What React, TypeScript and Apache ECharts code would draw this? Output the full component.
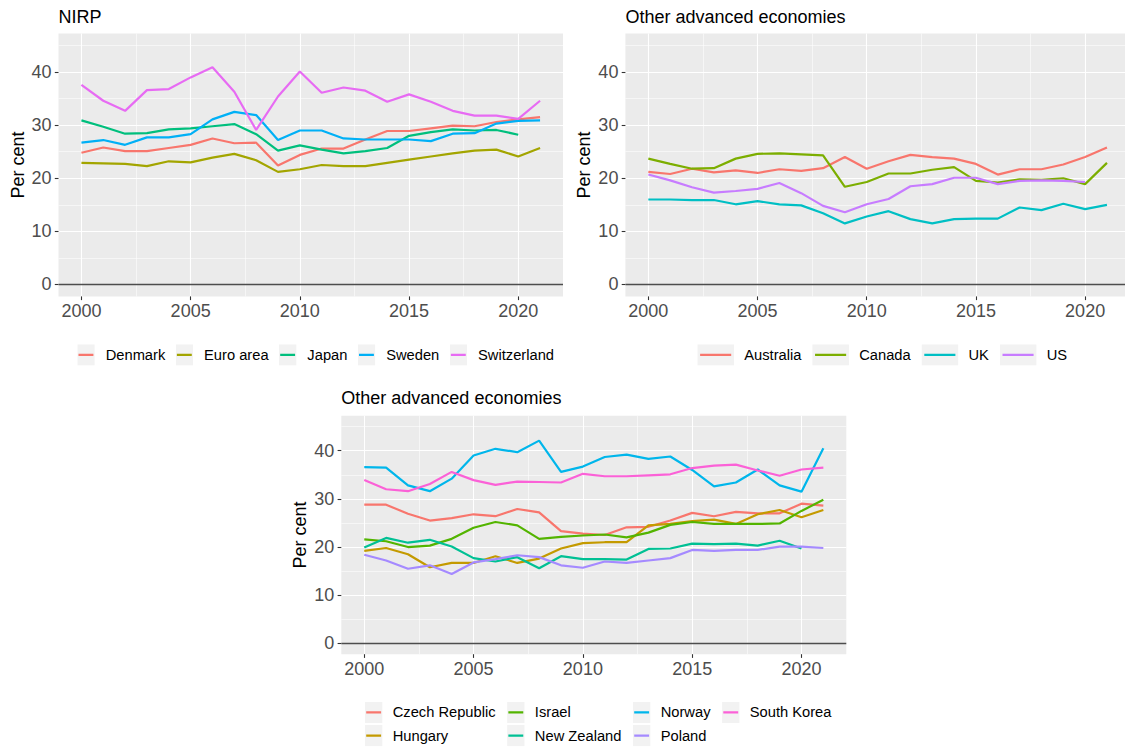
import React, { useEffect, useRef } from "react";
import * as echarts from "echarts";

// ---------------- data ----------------
const years = [2000, 2001, 2002, 2003, 2004, 2005, 2006, 2007, 2008, 2009, 2010, 2011, 2012, 2013, 2014, 2015, 2016, 2017, 2018, 2019, 2020, 2021];

const xMajorTicks = [2000, 2005, 2010, 2015, 2020];
const xMinorTicks = [2002.5, 2007.5, 2012.5, 2017.5];
const yMajorTicks = [0, 10, 20, 30, 40];
const yMinorTicks = [5, 15, 25, 35, 45];

// Panel 1: NIRP
const nirpNames = ["Denmark", "Euro area", "Japan", "Sweden", "Switzerland"];
const denmark = [24.8, 25.8, 25.1, 25.1, 25.7, 26.3, 27.5, 26.6, 26.7, 22.4, 24.4, 25.6, 25.6, 27.3, 28.9, 28.9, 29.4, 29.9, 29.8, 30.6, 31.1, 31.5];
const euroArea = [22.9, 22.8, 22.7, 22.3, 23.2, 23.0, 23.9, 24.6, 23.4, 21.2, 21.7, 22.5, 22.3, 22.3, 22.9, 23.5, 24.1, 24.7, 25.2, 25.4, 24.1, 25.7];
const japan = [30.9, 29.7, 28.4, 28.5, 29.2, 29.4, 29.8, 30.2, 28.3, 25.2, 26.2, 25.4, 24.7, 25.1, 25.7, 28.0, 28.7, 29.2, 29.0, 29.1, 28.2];
const sweden = [26.7, 27.2, 26.3, 27.7, 27.7, 28.3, 31.1, 32.5, 31.9, 27.2, 29.0, 29.0, 27.5, 27.3, 27.3, 27.3, 27.0, 28.4, 28.5, 30.3, 30.8, 30.9];
const switzerland = [37.6, 34.6, 32.7, 36.6, 36.8, 39.0, 40.9, 36.3, 29.1, 35.4, 40.1, 36.1, 37.1, 36.5, 34.4, 35.8, 34.4, 32.7, 31.8, 31.8, 31.2, 34.6];
const nirpColors = ["#F8766D", "#A3A500", "#00BF7D", "#00B0F6", "#E76BF3"];

// Panel 2: Other advanced economies (large)
const oaeNames = ["Australia", "Canada", "UK", "US"];
const australia = [21.2, 20.8, 21.8, 21.1, 21.5, 21.0, 21.7, 21.4, 21.9, 24.0, 21.8, 23.2, 24.4, 24.0, 23.7, 22.7, 20.7, 21.7, 21.7, 22.6, 24.0, 25.8];
const canada = [23.7, 22.7, 21.8, 21.9, 23.7, 24.6, 24.7, 24.5, 24.3, 18.4, 19.3, 20.9, 20.9, 21.6, 22.1, 19.5, 19.2, 19.8, 19.7, 20.0, 18.9, 22.9];
const uk = [16.0, 16.0, 15.9, 15.9, 15.1, 15.7, 15.1, 14.9, 13.4, 11.5, 12.8, 13.8, 12.3, 11.5, 12.3, 12.4, 12.4, 14.5, 14.0, 15.2, 14.2, 15.0];
const us = [20.7, 19.6, 18.3, 17.3, 17.6, 18.0, 19.1, 17.2, 14.8, 13.6, 15.1, 16.1, 18.5, 18.9, 20.1, 20.1, 18.9, 19.5, 19.6, 19.5, 19.3];
const oaeColors = ["#F8766D", "#7CAE00", "#00BFC4", "#C77CFF"];

// Panel 3: Other advanced economies (small)
const smallNames = ["Czech Republic", "Hungary", "Israel", "New Zealand", "Norway", "Poland", "South Korea"];
const czechRepublic = [28.8, 28.8, 26.9, 25.5, 26.0, 26.8, 26.4, 27.9, 27.2, 23.3, 22.8, 22.5, 24.1, 24.2, 25.5, 27.1, 26.4, 27.3, 27.0, 27.0, 29.0, 28.6];
const hungary = [19.2, 19.8, 18.5, 15.8, 16.7, 16.7, 18.1, 16.7, 17.6, 19.7, 20.8, 21.0, 21.0, 24.5, 24.8, 25.4, 25.7, 24.8, 26.8, 27.7, 26.2, 27.7];
const israel = [21.6, 21.2, 20.0, 20.3, 21.7, 24.0, 25.2, 24.5, 21.7, 22.1, 22.4, 22.6, 22.0, 23.0, 24.6, 25.2, 24.8, 24.8, 24.8, 24.9, 27.5, 29.8];
const newZealand = [19.9, 21.9, 20.9, 21.5, 20.1, 17.7, 17.0, 17.9, 15.6, 18.1, 17.5, 17.5, 17.4, 19.6, 19.7, 20.7, 20.6, 20.7, 20.3, 21.3, 19.7];
const norway = [36.6, 36.5, 32.8, 31.6, 34.2, 39.0, 40.4, 39.7, 42.1, 35.6, 36.7, 38.7, 39.2, 38.3, 38.8, 36.0, 32.6, 33.4, 36.1, 32.8, 31.5, 40.5];
const poland = [18.4, 17.2, 15.5, 16.2, 14.4, 16.8, 17.5, 18.3, 17.9, 16.2, 15.7, 17.0, 16.7, 17.2, 17.7, 19.4, 19.2, 19.4, 19.4, 20.1, 20.1, 19.8];
const southKorea = [33.9, 32.0, 31.6, 33.1, 35.6, 33.9, 32.9, 33.6, 33.5, 33.4, 35.2, 34.7, 34.7, 34.9, 35.1, 36.4, 36.9, 37.1, 35.9, 34.8, 36.1, 36.5];
const smallColors = ["#F8766D", "#C49A00", "#53B400", "#00C094", "#00B6EB", "#A58AFF", "#FB61D7"];

// ---------------- styling ----------------
const FONT = "'Liberation Sans', Arial, Helvetica, sans-serif";
const X_MIN = 1998.95;
const X_MAX = 2022.05;
const Y_MIN = -2.25;
const Y_MAX = 47.25;

function keyIcon(color: string, w: number, h: number, boxX: number, boxW: number, inset: number) {
  const svg =
    `<svg xmlns="http://www.w3.org/2000/svg" width="${w}" height="${h}" viewBox="0 0 ${w} ${h}">` +
    `<rect x="${boxX}" y="0" width="${boxW}" height="${h}" fill="#F2F2F2"/>` +
    `<line x1="${boxX + inset}" y1="${h / 2}" x2="${boxX + boxW - inset}" y2="${h / 2}" stroke="${color}" stroke-width="2.2"/>` +
    `</svg>`;
  return "image://data:image/svg+xml;charset=utf-8," + encodeURIComponent(svg);
}

type Panel = {
  title: string;
  titlePos: { left: number; top: number };
  grid: { left: number; top: number; width: number; height: number };
  names: string[];
  values: number[][];
  colors: string[];
  legend: any;
  key: { w: number; h: number; boxX: number; boxW: number; inset: number };
};

const panels: Panel[] = [
  {
    title: "NIRP",
    titlePos: { left: 58.5, top: 7.8 },
    grid: { left: 58.5, top: 33.6, width: 504.5, height: 262.8 },
    names: nirpNames,
    values: [denmark, euroArea, japan, sweden, switzerland],
    colors: nirpColors,
    key: { w: 23.4, h: 21.3, boxX: 0, boxW: 17.3, inset: 1.2 },
    legend: { left: 77.3, top: 344.3, orient: "horizontal", itemGap: 10.4 },
  },
  {
    title: "Other advanced economies",
    titlePos: { left: 625.4, top: 7.8 },
    grid: { left: 625.4, top: 33.6, width: 504.5, height: 262.8 },
    names: oaeNames,
    values: [australia, canada, uk, us],
    colors: oaeColors,
    key: { w: 42, h: 21.3, boxX: 0, boxW: 36.7, inset: 2.8 },
    legend: { left: 697.3, top: 344.3, orient: "horizontal", itemGap: 10.8 },
  },
  {
    title: "Other advanced economies",
    titlePos: { left: 341.3, top: 388.8 },
    grid: { left: 341.3, top: 415.8, width: 505, height: 238.4 },
    names: smallNames,
    values: [czechRepublic, hungary, israel, newZealand, norway, poland, southKorea],
    colors: smallColors,
    key: { w: 32.3, h: 21.3, boxX: 9.6, boxW: 17.3, inset: 1.2 },
    legend: { left: 355.4, top: 701.7, orient: "vertical", itemGap: 2, height: 46 },
  },
];

function buildOption() {
  const grid: any[] = [];
  const xAxis: any[] = [];
  const yAxis: any[] = [];
  const series: any[] = [];
  const legend: any[] = [];
  const title: any[] = [];

  panels.forEach((p, g) => {
    grid.push({
      ...p.grid,
      show: true,
      backgroundColor: "#EBEBEB",
      borderWidth: 0,
      containLabel: false,
      outerBoundsMode: "none",
    });

    title.push({
      text: p.title,
      left: p.titlePos.left,
      top: p.titlePos.top,
      padding: 0,
      textStyle: { fontSize: 18, fontWeight: "normal", color: "#000", fontFamily: FONT },
    });

    // major x
    xAxis.push({
      type: "value",
      gridIndex: g,
      min: X_MIN,
      max: X_MAX,
      axisLine: { show: false, onZero: false },
      axisTick: { show: true, customValues: xMajorTicks, length: 3.7, lineStyle: { color: "#333333", width: 1.1 } },
      axisLabel: {
        show: true,
        customValues: xMajorTicks,
        formatter: (v: number) => String(v),
        color: "#4D4D4D",
        fontSize: 18,
        margin: 6,
        fontFamily: FONT,
      },
      splitLine: { show: true, lineStyle: { color: "#FFFFFF", width: 1.1 } },
    });
    // minor x
    xAxis.push({
      type: "value",
      gridIndex: g,
      min: X_MIN,
      max: X_MAX,
      position: "bottom",
      axisLine: { show: false, onZero: false },
      axisTick: { show: false, customValues: xMinorTicks },
      axisLabel: { show: false, customValues: xMinorTicks },
      splitLine: { show: true, lineStyle: { color: "#FFFFFF", width: 0.55 } },
    });
    // major y
    yAxis.push({
      type: "value",
      gridIndex: g,
      min: Y_MIN,
      max: Y_MAX,
      name: "Per cent",
      nameLocation: "middle",
      nameGap: 32,
      nameRotate: 90,
      nameTextStyle: { fontSize: 18, color: "#000", fontFamily: FONT },
      axisLine: { show: false, onZero: false },
      axisTick: { show: true, customValues: yMajorTicks, length: 3.7, lineStyle: { color: "#333333", width: 1.1 } },
      axisLabel: {
        show: true,
        customValues: yMajorTicks,
        formatter: (v: number) => String(v),
        color: "#4D4D4D",
        fontSize: 18,
        margin: 7,
        fontFamily: FONT,
      },
      splitLine: { show: true, lineStyle: { color: "#FFFFFF", width: 1.1 } },
    });
    // minor y
    yAxis.push({
      type: "value",
      gridIndex: g,
      min: Y_MIN,
      max: Y_MAX,
      position: "left",
      axisLine: { show: false, onZero: false },
      axisTick: { show: false, customValues: yMinorTicks },
      axisLabel: { show: false, customValues: yMinorTicks },
      splitLine: { show: true, lineStyle: { color: "#FFFFFF", width: 0.55 } },
    });

    p.names.forEach((name, i) => {
      const vals = p.values[i];
      const s: any = {
        type: "line",
        name,
        xAxisIndex: 2 * g,
        yAxisIndex: 2 * g,
        data: vals.map((v, k) => [years[k], v]),
        showSymbol: false,
        symbol: "none",
        silent: true,
        lineStyle: { width: 2.2, color: p.colors[i] },
        itemStyle: { color: p.colors[i] },
        emphasis: { disabled: true },
      };
      if (i === 0) {
        s.markLine = {
          silent: true,
          symbol: ["none", "none"],
          label: { show: false },
          lineStyle: { color: "#4D4D4D", width: 1.3, type: "solid" },
          emphasis: { disabled: true },
          data: [{ yAxis: 0 }],
        };
      }
      series.push(s);
    });

    const lg = p.legend;
    legend.push({
      show: true,
      orient: lg.orient,
      left: lg.left,
      top: lg.top,
      ...(lg.height ? { height: lg.height } : {}),
      padding: 0,
      itemGap: lg.itemGap,
      itemWidth: p.key.w,
      itemHeight: p.key.h,
      selectedMode: false,
      symbolKeepAspect: false,
      textStyle: { fontSize: 14.7, color: "#000", fontFamily: FONT },
      data: p.names.map((n, i) => ({
        name: n,
        icon: keyIcon(p.colors[i], p.key.w, p.key.h, p.key.boxX, p.key.boxW, p.key.inset),
      })),
    });
  });

  return {
    animation: false,
    backgroundColor: "#FFFFFF",
    textStyle: { fontFamily: FONT },
    title,
    grid,
    xAxis,
    yAxis,
    legend,
    series,
  };
}

export default function App() {
  const ref = useRef<HTMLDivElement>(null);
  useEffect(() => {
    document.body.style.margin = "0";
    const chart = echarts.init(ref.current as HTMLDivElement, null, { renderer: "svg" });
    chart.setOption(buildOption() as any);
    return () => {
      chart.dispose();
    };
  }, []);
  return <div ref={ref} style={{ width: 1125, height: 748, background: "#FFFFFF" }} />;
}
